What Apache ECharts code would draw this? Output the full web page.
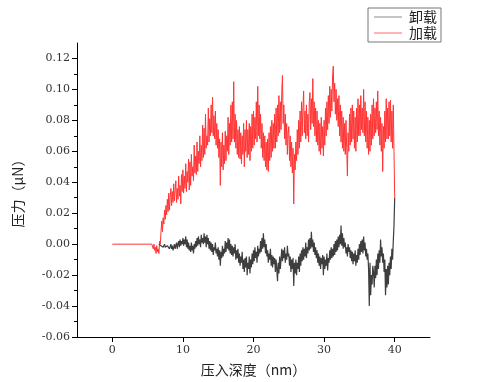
<!DOCTYPE html>
<html><head><meta charset="utf-8">
<script src="https://cdn.jsdelivr.net/npm/echarts@6/dist/echarts.min.js"></script>
<style>html,body{margin:0;padding:0;background:#fff}#c{width:499px;height:382px}</style>
</head><body><div id="c"></div>
<script>
var seriesNames = ['卸载', '加载'];
var xTitle = '压入深度（nm）';
var yTitle = '压力（μN）';
var xTicks = [0, 10, 20, 30, 40];
var yTicks = [-0.06, -0.04, -0.02, 0.00, 0.02, 0.04, 0.06, 0.08, 0.10, 0.12];

// loading (加载): flat approach segment, then sampled force every 0.1 nm from 5.6 nm
var loadFlat = [[0, 0]];
var loadStart = 5.6, loadStep = 0.1;
var loadForce = [
0,-.001,-.003,.000,-.004,-.002,-.006,-.001,-.005,-.003,-.006,.002,.000,.008,
.015,.008,.017,.013,.022,.016,.025,.019,.029,.021,
.033,.022,.030,.036,.025,.034,.027,.039,.028,.035,
.041,.027,.036,.029,.044,.031,.038,.026,.045,.034,
.048,.033,.044,.036,.052,.034,.047,.040,.055,.035,
.053,.038,.058,.044,.050,.041,.064,.046,.057,.045,
.066,.047,.060,.052,.070,.050,.064,.054,.077,.056,
.075,.058,.084,.062,.070,.064,.088,.066,.081,.070,
.090,.072,.095,.070,.083,.068,.086,.064,.078,.062,
.074,.056,.068,.038,.066,.050,.072,.048,.064,.052,
.073,.054,.070,.060,.082,.058,.078,.064,.090,.066,
.092,.068,.105,.066,.084,.062,.080,.058,.074,.056,
.076,.055,.072,.052,.070,.058,.078,.050,.074,.060,
.080,.056,.074,.058,.078,.054,.076,.060,.084,.062,
.086,.064,.082,.068,.092,.066,.102,.070,.090,.068,
.084,.062,.078,.056,.072,.054,.070,.050,.066,.048,
.068,.047,.072,.054,.076,.056,.080,.060,.078,.062,
.084,.062,.088,.066,.090,.070,.096,.072,.092,.074,
.098,.109,.078,.090,.068,.084,.064,.078,.058,.072,
.076,.054,.070,.050,.066,.046,.062,.026,.058,.048,
.066,.054,.074,.058,.080,.062,.086,.066,.092,.070,
.088,.099,.072,.086,.068,.090,.070,.084,.066,.092,
.098,.074,.094,.078,.107,.076,.092,.070,.088,.066,
.086,.064,.080,.060,.078,.058,.082,.062,.076,.057,
.080,.064,.088,.070,.092,.074,.096,.078,.102,.082,
.100,.086,.108,.115,.092,.104,.084,.100,.080,.094,
.076,.096,.070,.090,.066,.086,.062,.082,.060,.078,
.058,.080,.062,.044,.072,.060,.084,.064,.088,.066,
.090,.068,.086,.062,.082,.060,.088,.066,.094,.070,
.090,.070,.096,.074,.088,.072,.100,.070,.092,.066,
.086,.062,.082,.058,.080,.060,.084,.064,.090,.068,
.094,.070,.088,.072,.092,.074,.099,.070,.086,.064,
.082,.060,.078,.047,.076,.062,.086,.066,.094,.068,
.088,.068,.092,.070,.093,.066,.086,.062,.090,.060,
.030
];

// unloading (卸载): sampled force every 0.1 nm from 6.6 nm
var unloadStart = 6.6, unloadStep = 0.1;
var unloadForce = [
.000,-.001,.000,-.001,
-.001,.000,-.002,-.001,.000,-.002,-.001,-.003,-.001,-.002,
-.001,-.003,-.002,.000,-.003,-.001,-.004,-.002,.000,-.003,
-.001,.001,-.003,.000,.002,-.002,.003,-.001,.002,.000,
.004,-.001,.003,.000,.005,-.002,.003,-.003,.001,-.004,
-.001,-.005,.001,-.004,-.001,-.006,.000,-.003,.002,-.002,
.004,-.001,.005,.000,.003,-.002,.006,.001,.004,.000,
.007,.001,.005,-.002,.006,.000,.004,-.003,.002,-.004,
.001,-.005,.000,-.007,-.002,-.004,.001,-.006,-.003,-.008,
-.002,-.010,-.004,-.014,-.005,-.009,-.001,-.008,-.003,-.006,
.002,-.005,.001,-.003,.004,-.004,.003,-.006,.000,-.007,
-.001,-.008,-.002,-.006,.000,-.010,-.004,-.009,-.003,-.012,
-.006,-.014,-.008,-.012,-.005,-.016,-.010,-.018,-.009,-.015,
-.008,-.020,-.012,-.016,-.008,-.019,-.010,-.015,-.006,-.013,
-.004,-.011,-.002,-.009,-.005,-.012,-.001,-.008,-.003,-.006,
.002,-.005,.004,-.003,.007,-.002,.003,-.006,.000,-.008,
-.004,-.012,-.006,-.010,-.003,-.014,-.007,-.015,-.008,-.013,
-.009,-.018,-.010,-.016,-.024,-.012,-.019,-.008,-.016,-.010,
-.003,-.011,-.004,-.009,-.002,-.012,-.006,-.010,-.001,-.008,
-.006,-.014,-.008,-.018,-.010,-.016,-.009,-.027,-.012,-.019,
-.010,-.020,-.012,-.016,-.008,-.018,-.006,-.014,-.004,-.011,
-.002,-.010,-.003,-.008,.001,-.009,-.002,-.006,.003,-.004,
.004,-.003,.008,-.002,.003,-.005,.001,-.007,-.002,-.009,
-.004,-.012,-.006,-.014,-.008,-.016,-.009,-.013,-.007,-.020,
-.008,-.016,-.010,-.014,-.006,-.017,-.009,-.012,-.004,-.010,
-.002,-.009,-.003,-.008,.000,-.007,.002,-.005,.003,-.004,
.005,-.002,.006,.000,.012,-.001,.007,-.003,.004,-.002,
.001,-.006,-.002,-.008,.000,-.005,-.002,-.009,-.004,-.011,
-.005,-.013,-.006,-.011,-.004,-.014,-.007,-.012,-.003,-.010,
.000,-.007,.002,-.005,.003,-.006,.005,-.004,.001,-.008,
-.003,-.010,-.006,-.016,-.040,-.012,-.033,-.020,-.026,-.014,
-.018,-.028,-.014,-.022,-.010,-.020,-.006,-.016,-.004,-.012,
.003,-.008,-.002,-.012,-.006,-.018,-.010,-.033,-.016,-.028,
-.014,-.026,-.012,-.020,-.008,-.016,-.003,-.010,.002,.012,
.030
];

function pairs(start, step, vals) {
  return vals.map(function (v, i) { return [+(start + i * step).toFixed(2), v]; });
}
var loadData = loadFlat.concat(pairs(loadStart, loadStep, loadForce));
var unloadData = pairs(unloadStart, unloadStep, unloadForce);

var numFont = 'DejaVu Serif';
var cjkFont = 'Noto Sans CJK SC';
var chart = echarts.init(document.getElementById('c'), null, {renderer: 'canvas'});
chart.setOption({
  animation: false,
  backgroundColor: '#fff',
  textStyle: {fontFamily: numFont},
  grid: {left: 77, right: 69, top: 43, bottom: 44, containLabel: false},
  legend: {
    data: seriesNames,
    orient: 'vertical',
    left: 368, top: 8,
    padding: [2, 4, 2, 6],
    itemGap: 2,
    itemWidth: 28, itemHeight: 1,
    icon: 'rect',
    borderColor: '#777', borderWidth: 1,
    textStyle: {fontFamily: cjkFont, fontSize: 14, color: '#222', padding: [0, 0, 0, 2]}
  },
  xAxis: {
    type: 'value', min: -5, max: 45, interval: 10,
    name: xTitle, nameLocation: 'middle', nameGap: 26,
    nameTextStyle: {fontFamily: cjkFont, fontSize: 14, color: '#222'},
    axisLine: {onZero: false, lineStyle: {color: '#000', width: 1}},
    axisTick: {show: true, inside: false, length: 5, lineStyle: {color: '#000'},
      customValues: xTicks},
    minorTick: {show: true, splitNumber: 2, length: 3, lineStyle: {color: '#000'}},
    axisLabel: {fontFamily: numFont, fontSize: 11, color: '#333', margin: 8,
      customValues: xTicks},
    splitLine: {show: false}
  },
  yAxis: {
    type: 'value', min: -0.06, max: 0.13, interval: 0.02,
    name: yTitle, nameLocation: 'middle', nameGap: 52, nameRotate: 90,
    nameTextStyle: {fontFamily: cjkFont, fontSize: 14, color: '#222'},
    axisLine: {onZero: false, lineStyle: {color: '#000', width: 1}},
    axisTick: {show: true, inside: false, length: 5, lineStyle: {color: '#000'},
      customValues: yTicks},
    minorTick: {show: true, splitNumber: 2, length: 3, lineStyle: {color: '#000'}},
    axisLabel: {fontFamily: numFont, fontSize: 11, color: '#333', margin: 7,
      customValues: yTicks,
      formatter: function (v) { return v.toFixed(2); }},
    splitLine: {show: false}
  },
  series: [
    {name: seriesNames[1], type: 'line', data: loadData, showSymbol: false, symbol: 'none',
      sampling: null, color: '#ff6a6a', lineStyle: {width: 1, color: '#ff3434'}, z: 2},
    {name: seriesNames[0], type: 'line', data: unloadData, showSymbol: false, symbol: 'none',
      sampling: null, color: '#8a8a8a', lineStyle: {width: 1.2, color: '#3e3e3e'}, z: 3}
  ]
});
</script>
</body></html>
